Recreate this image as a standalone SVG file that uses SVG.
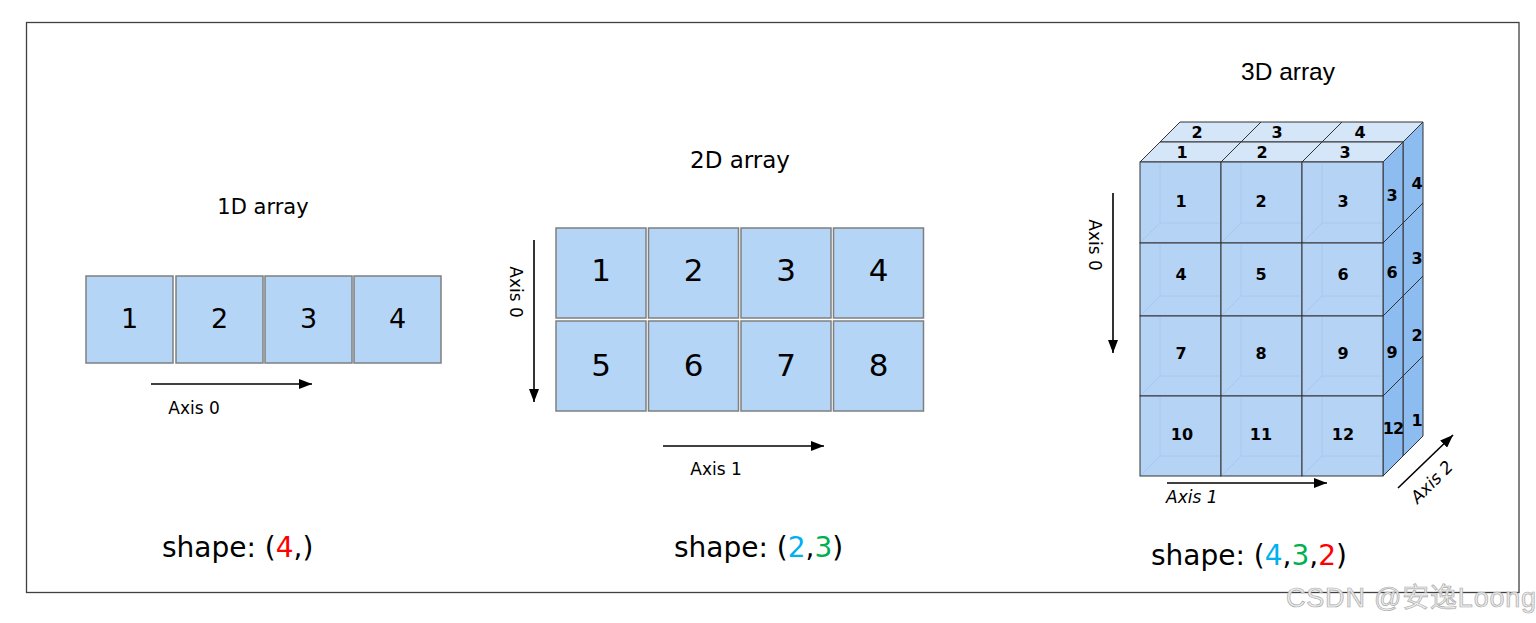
<svg xmlns="http://www.w3.org/2000/svg" width="1536" height="623" viewBox="0 0 1536 623">
  <style>
    .frame { fill: none; stroke: #404040; stroke-width: 1.3; }
    .cell { fill: #b4d5f6; stroke: #7f7f7f; stroke-width: 1.5; }
    .comic { font-family: "DejaVu Sans", "Liberation Sans", sans-serif; fill: #000; }
    .mid { text-anchor: middle; }
    .n1 { font-size: 27px; }
    .n2 { font-size: 31px; }
    .n3 { font-size: 16px; font-weight: bold; }
    .ttl { font-size: 21px; }
    .ax { font-size: 17px; }
    .shape { font-size: 28px; }
    .front { fill: #b5d4f5; stroke: #333; stroke-width: 1; }
    .top { fill: #d5e6f8; stroke: #333; stroke-width: 1; }
    .side { fill: #8cbcf0; stroke: #333; stroke-width: 1; }
    .ghost { fill: none; stroke: #a6c8ee; stroke-width: 1; }
    .arrow { fill: none; stroke: #000; stroke-width: 1.6; marker-end: url(#ah); }
  </style>
  <defs>
    <marker id="ah" markerUnits="userSpaceOnUse" markerWidth="13" markerHeight="10" refX="13" refY="5" orient="auto">
      <path d="M0,0 L13,5 L0,10 z" fill="#000"/>
    </marker>
  </defs>

  <rect x="0" y="0" width="1536" height="623" fill="#fff"/>
  <rect class="frame" x="26.5" y="22.5" width="1492.5" height="570"/>

  <!-- 1D array -->
  <g id="array-1d">
    <text class="comic mid ttl" x="263" y="214">1D array</text>
    <g id="a1-1"><rect class="cell" x="86" y="276" width="87" height="87"/><text class="comic mid n1" x="129.5" y="328">1</text></g>
    <g id="a1-2"><rect class="cell" x="176" y="276" width="87" height="87"/><text class="comic mid n1" x="219.5" y="328">2</text></g>
    <g id="a1-3"><rect class="cell" x="265" y="276" width="87" height="87"/><text class="comic mid n1" x="308.5" y="328">3</text></g>
    <g id="a1-4"><rect class="cell" x="354" y="276" width="87" height="87"/><text class="comic mid n1" x="397.5" y="328">4</text></g>
    <text class="comic mid ax" x="194" y="414">Axis 0</text>
    <text class="comic shape" x="162" y="557">shape: (<tspan fill="#ff0000">4</tspan>,)</text>
  </g>

  <!-- 2D array -->
  <g id="array-2d">
    <text class="comic mid ttl" x="740" y="168" style="font-size:23px">2D array</text>
    <g id="a2-1"><rect class="cell" x="556" y="228" width="90" height="90"/><text class="comic mid n2" x="601" y="281">1</text></g>
    <g id="a2-2"><rect class="cell" x="648.5" y="228" width="90" height="90"/><text class="comic mid n2" x="693.5" y="281">2</text></g>
    <g id="a2-3"><rect class="cell" x="741" y="228" width="90" height="90"/><text class="comic mid n2" x="786" y="281">3</text></g>
    <g id="a2-4"><rect class="cell" x="833.5" y="228" width="90" height="90"/><text class="comic mid n2" x="878.5" y="281">4</text></g>
    <g id="a2-5"><rect class="cell" x="556" y="321" width="90" height="90"/><text class="comic mid n2" x="601" y="376">5</text></g>
    <g id="a2-6"><rect class="cell" x="648.5" y="321" width="90" height="90"/><text class="comic mid n2" x="693.5" y="376">6</text></g>
    <g id="a2-7"><rect class="cell" x="741" y="321" width="90" height="90"/><text class="comic mid n2" x="786" y="376">7</text></g>
    <g id="a2-8"><rect class="cell" x="833.5" y="321" width="90" height="90"/><text class="comic mid n2" x="878.5" y="376">8</text></g>
    <text class="comic mid ax" transform="translate(510,292) rotate(90)">Axis 0</text>
    <text class="comic mid ax" x="716" y="475">Axis 1</text>
    <text class="comic shape" x="674" y="557">shape: (<tspan fill="#00b0f0">2</tspan>,<tspan fill="#00b050">3</tspan>)</text>
  </g>

  <!-- 3D array -->
  <g id="array-3d">
    <text x="1288" y="80" text-anchor="middle" font-family="Liberation Sans, Arial, sans-serif" font-size="24.5" fill="#000">3D array</text>

    <g id="a3-top">
      <polygon class="top" points="1160,142 1241,142 1261,122 1180,122"/>
      <polygon class="top" points="1241,142 1322,142 1342,122 1261,122"/>
      <polygon class="top" points="1322,142 1403,142 1423,122 1342,122"/>
      <polygon class="top" points="1140,162 1221,162 1241,142 1160,142"/>
      <polygon class="top" points="1221,162 1302,162 1322,142 1241,142"/>
      <polygon class="top" points="1302,162 1383,162 1403,142 1322,142"/>
      <g class="comic mid n3">
        <text x="1197" y="138">2</text><text x="1277" y="138">3</text><text x="1360" y="138">4</text>
        <text x="1182" y="158">1</text><text x="1262" y="158">2</text><text x="1345" y="158">3</text>
      </g>
    </g>

    <g id="a3-side">
      <polygon class="side" points="1403,142 1423,122 1423,203 1403,223"/>
      <polygon class="side" points="1403,223 1423,203 1423,276 1403,296"/>
      <polygon class="side" points="1403,296 1423,276 1423,356 1403,376"/>
      <polygon class="side" points="1403,376 1423,356 1423,436 1403,456"/>
      <polygon class="side" points="1383,162 1403,142 1403,223 1383,243"/>
      <polygon class="side" points="1383,243 1403,223 1403,296 1383,316"/>
      <polygon class="side" points="1383,316 1403,296 1403,376 1383,396"/>
      <polygon class="side" points="1383,396 1403,376 1403,456 1383,476"/>
      <g class="comic mid n3">
        <text x="1392" y="201">3</text><text x="1392" y="278">6</text><text x="1392" y="358">9</text><text x="1393" y="434" letter-spacing="-1">12</text>
        <text x="1417" y="189">4</text><text x="1417" y="264">3</text><text x="1417" y="341">2</text><text x="1417" y="426">1</text>
      </g>
    </g>

    <g id="a3-front">
      <rect class="front" x="1140" y="162" width="81" height="81"/>
      <rect class="front" x="1221" y="162" width="81" height="81"/>
      <rect class="front" x="1302" y="162" width="81" height="81"/>
      <rect class="front" x="1140" y="243" width="81" height="73"/>
      <rect class="front" x="1221" y="243" width="81" height="73"/>
      <rect class="front" x="1302" y="243" width="81" height="73"/>
      <rect class="front" x="1140" y="316" width="81" height="80"/>
      <rect class="front" x="1221" y="316" width="81" height="80"/>
      <rect class="front" x="1302" y="316" width="81" height="80"/>
      <rect class="front" x="1140" y="396" width="81" height="80"/>
      <rect class="front" x="1221" y="396" width="81" height="80"/>
      <rect class="front" x="1302" y="396" width="81" height="80"/>
      <path class="ghost" d="M1160,163 V223 H1220 M1141,242 L1160,223
        M1241,163 V223 H1301 M1222,242 L1241,223
        M1322,163 V223 H1382 M1303,242 L1322,223
        M1160,244 V296 H1220 M1141,315 L1160,296
        M1241,244 V296 H1301 M1222,315 L1241,296
        M1322,244 V296 H1382 M1303,315 L1322,296
        M1160,317 V376 H1220 M1141,395 L1160,376
        M1241,317 V376 H1301 M1222,395 L1241,376
        M1322,317 V376 H1382 M1303,395 L1322,376
        M1160,397 V456 H1220 M1141,475 L1160,456
        M1241,397 V456 H1301 M1222,475 L1241,456
        M1322,397 V456 H1382 M1303,475 L1322,456"/>
      <g class="comic mid n3">
        <text x="1181" y="207">1</text><text x="1261" y="207">2</text><text x="1343" y="207">3</text>
        <text x="1181" y="280">4</text><text x="1261" y="280">5</text><text x="1343" y="280">6</text>
        <text x="1181" y="359">7</text><text x="1261" y="359">8</text><text x="1343" y="359">9</text>
        <text x="1182" y="440">10</text><text x="1261" y="440">11</text><text x="1343" y="440">12</text>
      </g>
    </g>

    <text class="comic mid ax" transform="translate(1089,245) rotate(90)">Axis 0</text>
    <text class="comic ax" x="1166" y="503" font-style="italic">Axis 1</text>
    <text class="comic mid ax" transform="translate(1436,486) rotate(-45)" font-style="italic">Axis 2</text>
    <text class="comic shape" x="1151" y="565">shape: (<tspan fill="#00b0f0">4</tspan>,<tspan fill="#00b050">3</tspan>,<tspan fill="#ff0000">2</tspan>)</text>
  </g>

  <!-- connectors (axis arrows) -->
  <g id="connectors">
    <line class="arrow" x1="151" y1="384" x2="312" y2="384"/>
    <line class="arrow" x1="534" y1="240" x2="534" y2="402"/>
    <line class="arrow" x1="663" y1="446" x2="824" y2="446"/>
    <line class="arrow" x1="1113" y1="193" x2="1113" y2="353"/>
    <line class="arrow" x1="1167" y1="483" x2="1327" y2="483"/>
    <line class="arrow" x1="1398" y1="488" x2="1453" y2="435"/>
  </g>

  <text x="1286" y="607" font-family="Liberation Sans, Noto Sans CJK SC, sans-serif" font-size="27" letter-spacing="0.8" fill="#ececec" stroke="#ababab" stroke-width="0.7">CSDN @安逸Loong</text>
</svg>
